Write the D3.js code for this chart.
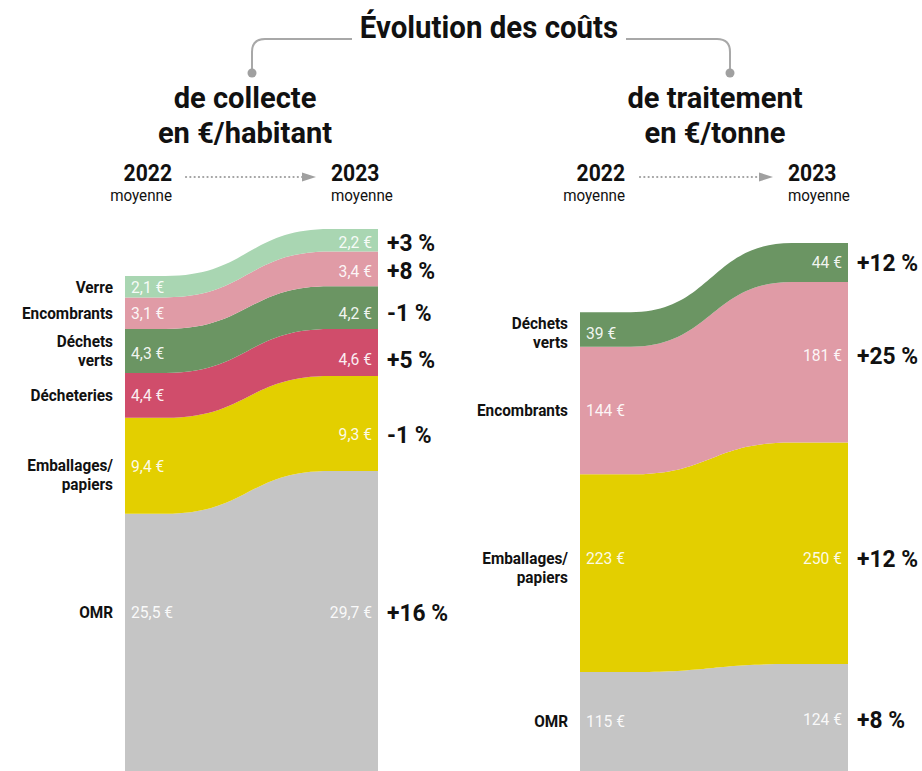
<!DOCTYPE html>
<html>
<head>
<meta charset="utf-8">
<script src="https://cdn.jsdelivr.net/npm/d3@7"></script>
<style>
  body { margin: 0; background: #fff; }
  svg text { font-family: Roboto, "Liberation Sans", "DejaVu Sans Condensed", sans-serif; }
</style>
</head>
<body>
<svg id="chart" width="922" height="771"></svg>
<script>
// ---- data ----
const collecteCategories = ["OMR", "Emballages/papiers", "Décheteries", "Déchets verts", "Encombrants", "Verre"];
const collecte2022 = [25.5, 9.4, 4.4, 4.3, 3.1, 2.1];
const collecte2023 = [29.7, 9.3, 4.6, 4.2, 3.4, 2.2];
const collectePct = ["+16 %", "-1 %", "+5 %", "-1 %", "+8 %", "+3 %"];

const traitementCategories = ["OMR", "Emballages/papiers", "Encombrants", "Déchets verts"];
const traitement2022 = [115, 223, 144, 39];
const traitement2023 = [124, 250, 181, 44];
const traitementPct = ["+8 %", "+12 %", "+25 %", "+12 %"];

const years = ["2022", "2023"];

// category names as printed (with line breaks)
const displayNames = {
    "OMR": ["OMR"],
    "Emballages/papiers": ["Emballages/", "papiers"],
    "Décheteries": ["Décheteries"],
    "Déchets verts": ["Déchets", "verts"],
    "Encombrants": ["Encombrants"],
    "Verre": ["Verre"]
};

const colors = {
    "OMR": "#c5c5c5",
    "Emballages/papiers": "#e3cf00",
    "Décheteries": "#d04d6b",
    "Déchets verts": "#6b9563",
    "Encombrants": "#e09ba6",
    "Verre": "#a9d6b2"
};

const fr = d3.formatLocale({decimal: ",", thousands: " ", grouping: [3], currency: ["", " €"]});

const svg = d3.select("#chart");

// text helper: sx squeezes the glyphs horizontally (the original uses a condensed face)
function label(x, y, str, o) {
    o = o || {};
    const sx = o.sx || 1;
    return svg.append("text")
        .attr("transform", "translate(" + x + "," + y + ") scale(" + sx + ",1)")
        .attr("dy", o.dy || null)
        .attr("text-anchor", o.anchor || "start")
        .style("font-size", (o.size || 16) + "px")
        .style("font-weight", o.bold ? "bold" : "normal")
        .attr("fill", o.fill || "#111")
        .attr("fill-opacity", o.opacity || 1)
        .text(str);
}

// ---- title + bracket ----
label(489, 38, "Évolution des coûts", {size: 32, bold: true, anchor: "middle", sx: 0.92});

svg.append("path")
    .attr("d", "M252,70 L252,52 Q252,39 265,39 L352,39 M626,39 L717,39 Q730,39 730,52 L730,70")
    .attr("fill", "none").attr("stroke", "#a8a8a8").attr("stroke-width", 2);
[252, 730].forEach(function (cx) {
    svg.append("circle").attr("cx", cx).attr("cy", 73).attr("r", 4.5).attr("fill", "#a0a0a0");
});

// ---- one panel ----
function drawPanel(cfg) {
    const n = cfg.categories.length;
    const rows = years.map(function (yr, j) {
        const r = {year: yr};
        cfg.categories.forEach(function (c, i) { r[c] = (j == 0 ? cfg.v2022 : cfg.v2023)[i]; });
        return r;
    });
    const series = d3.stack().keys(cfg.categories)(rows);
    const maxTotal = d3.max(series[n - 1], function (d) { return d[1]; });

    const x = d3.scaleLinear().domain([0, 1]).range([cfg.x0, cfg.x1]);
    const y = d3.scaleLinear().domain([0, maxTotal]).range([cfg.bottom, cfg.top]);

    // two flat ends and an S-shaped passage between them
    const steps = [{t: 0, j: 0}, {t: cfg.rampStart, j: 0}, {t: cfg.rampEnd, j: 1}, {t: 1, j: 1}];

    const area = d3.area()
        .x(function (p) { return x(p.t); })
        .y0(function (p) { return y(p.s[p.j][0]); })
        .y1(function (p) { return y(p.s[p.j][1]); })
        .curve(d3.curveBumpX);

    const g = svg.append("g");
    g.selectAll("path.layer")
        .data(series)
        .enter().append("path")
        .attr("class", "layer")
        .attr("fill", function (s) { return colors[s.key]; })
        .attr("d", function (s) {
            return area(steps.map(function (p) { return {t: p.t, j: p.j, s: s}; }));
        });

    // headers
    label(cfg.headX, 108, cfg.title[0], {size: 30, bold: true, anchor: "middle", sx: 0.97});
    label(cfg.headX, 143, cfg.title[1], {size: 30, bold: true, anchor: "middle", sx: 0.97});

    label(cfg.y22x, 181, years[0], {size: 24, bold: true, anchor: "end", sx: 0.88});
    label(cfg.y22x, 201, "moyenne", {size: 16, anchor: "end", sx: 0.95});
    label(cfg.y23x, 181, years[1], {size: 24, bold: true, sx: 0.88});
    label(cfg.y23x, 201, "moyenne", {size: 16, sx: 0.95});

    // dotted arrow
    svg.append("line")
        .attr("x1", cfg.arrow[0]).attr("x2", cfg.arrow[1] - 12)
        .attr("y1", 177).attr("y2", 177)
        .attr("stroke", "#a0a0a0").attr("stroke-width", 2.2)
        .attr("stroke-dasharray", "0.1,4.2").attr("stroke-linecap", "round");
    svg.append("path")
        .attr("d", "M" + (cfg.arrow[1] - 14) + ",172.5 L" + cfg.arrow[1] + ",177 L" + (cfg.arrow[1] - 14) + ",181.5 Z")
        .attr("fill", "#a0a0a0");

    // labels
    series.forEach(function (s, i) {
        const c = s.key;
        const nud = cfg.nudge[c] || [0, 0, 0];
        const mid22 = y((s[0][0] + s[0][1]) / 2);
        const mid23 = y((s[1][0] + s[1][1]) / 2);
        const yc22 = Math.min(mid22, (y(s[0][1]) + 771) / 2) + nud[0];
        const yv22 = yc22 + nud[1];
        const yc23 = mid23 + nud[2];

        const lines = displayNames[c];
        lines.forEach(function (ln, k) {
            label(cfg.x0 - 12, yc22 + (k - (lines.length - 1) / 2) * 19, ln,
                {size: 16.5, bold: true, anchor: "end", dy: "0.36em", sx: 0.93});
        });

        label(cfg.x0 + 6, yv22, cfg.fmt(s[0].data[c]),
            {size: 16.5, fill: "#fff", opacity: 0.92, dy: "0.36em", sx: 0.95});
        label(cfg.x1 - 6, yc23, cfg.fmt(s[1].data[c]),
            {size: 16.5, fill: "#fff", opacity: 0.92, dy: "0.36em", anchor: "end", sx: 0.95});
        label(cfg.x1 + 9, yc23, cfg.pct[i],
            {size: 24, bold: true, dy: "0.36em", sx: 0.95});
    });
}

drawPanel({
    categories: collecteCategories, v2022: collecte2022, v2023: collecte2023, pct: collectePct,
    x0: 125, x1: 378, top: 229, bottom: 774, rampStart: 0.16, rampEnd: 0.81,
    headX: 245, title: ["de collecte", "en €/habitant"],
    y22x: 172, y23x: 331, arrow: [186, 316],
    fmt: fr.format("$.1f"),
    nudge: {"OMR": [-30, 0, -10], "Emballages/papiers": [9, -9, 11], "Déchets verts": [0, 2, 5],
            "Décheteries": [0, 0, 7], "Encombrants": [0, 0, 2], "Verre": [0, 0, 2]}
});

drawPanel({
    categories: traitementCategories, v2022: traitement2022, v2023: traitement2023, pct: traitementPct,
    x0: 580, x1: 848, top: 243, bottom: 774, rampStart: 0.19, rampEnd: 0.79,
    headX: 715, title: ["de traitement", "en €/tonne"],
    y22x: 625, y23x: 788, arrow: [640, 773],
    fmt: fr.format("$.0f"),
    nudge: {"OMR": [0, 0, 0], "Emballages/papiers": [-6, -9, 5], "Encombrants": [0, 0, -7],
            "Déchets verts": [3, 1, 0]}
});
</script>
</body>
</html>
